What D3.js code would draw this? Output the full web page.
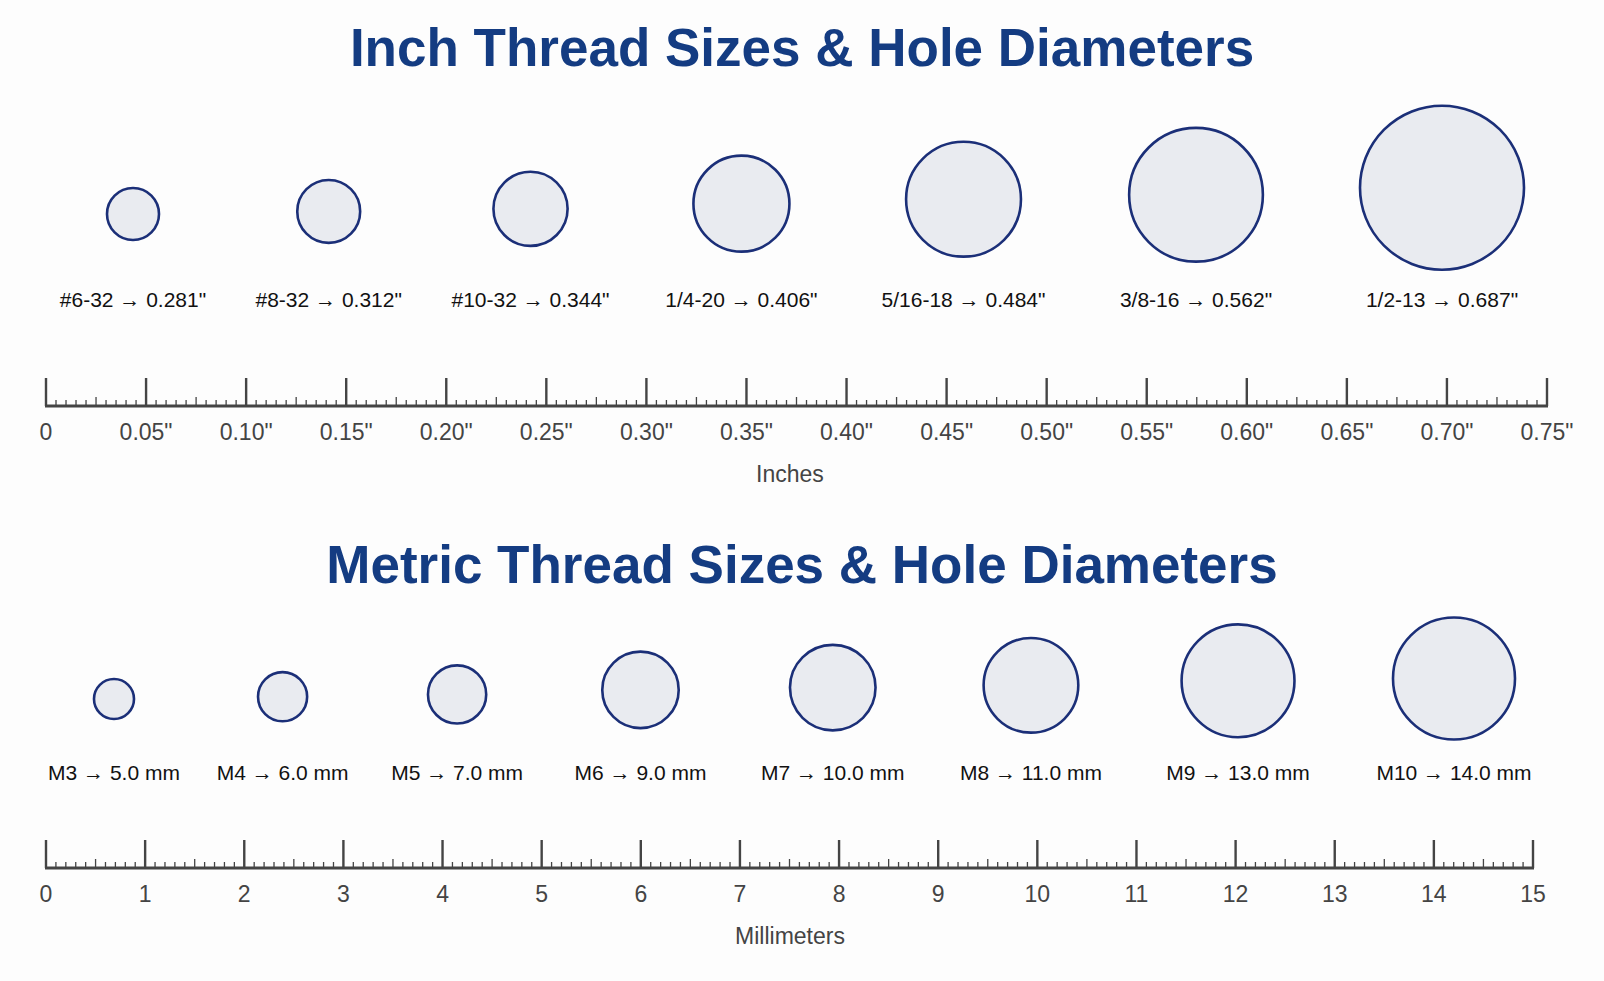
<!DOCTYPE html>
<html>
<head>
<meta charset="utf-8">
<script src="https://cdn.jsdelivr.net/npm/d3@7"></script>
<style>
  body { margin: 0; background: #fdfdfd; }
  text { font-family: "Liberation Sans", Arial, sans-serif; }
</style>
</head>
<body>
<svg width="1604" height="981"></svg>
<script>
// inch threads
const inchNames = ["#6-32", "#8-32", "#10-32", "1/4-20", "5/16-18", "3/8-16", "1/2-13"];
const inchDiam = [0.281, 0.312, 0.344, 0.406, 0.484, 0.562, 0.687];
const inchTicks = ["0", "0.05\"", "0.10\"", "0.15\"", "0.20\"", "0.25\"", "0.30\"", "0.35\"",
  "0.40\"", "0.45\"", "0.50\"", "0.55\"", "0.60\"", "0.65\"", "0.70\"", "0.75\""];

// metric threads
const metricNames = ["M3", "M4", "M5", "M6", "M7", "M8", "M9", "M10"];
const metricDiam = [5.0, 6.0, 7.0, 9.0, 10.0, 11.0, 13.0, 14.0];
const mmTicks = ["0", "1", "2", "3", "4", "5", "6", "7", "8", "9", "10", "11", "12", "13", "14", "15"];

const svg = d3.select("svg");
const blue = "#143c82";

function title(txt, y) {
    svg.append("text").attr("x", 802).attr("y", y).attr("text-anchor", "middle")
        .attr("font-size", 53).attr("font-weight", "bold").attr("fill", blue).text(txt);
}

// circles: blend of edge-packed layout and even spacing
function drawRow(names, diam, fmt, rScale, x0, x1, cy0, lift, labelY, mix) {
    const r = diam.map(d => rScale(d));
    let pairSum = 0;
    for (let i = 1; i < r.length; i++) pairSum += r[i - 1] + r[i];
    const gap = (x1 - x0 - pairSum) / (r.length - 1);
    const packed = [x0];
    for (let i = 1; i < r.length; i++) packed.push(packed[i - 1] + r[i - 1] + r[i] + gap);
    const even = d3.scalePoint().domain(d3.range(r.length)).range([x0, x1]);
    const xs = packed.map((p, i) => p + (even(i) - p) * mix);

    const g = svg.append("g");
    g.selectAll("circle").data(diam).enter().append("circle")
        .attr("cx", (d, i) => xs[i])
        .attr("cy", (d, i) => cy0 - (r[i] - r[0]) * lift)
        .attr("r", (d, i) => r[i])
        .attr("fill", "#e9ebf0").attr("stroke", "#1b2f78").attr("stroke-width", 2.6);
    g.selectAll("text").data(diam).enter().append("text")
        .attr("x", (d, i) => xs[i]).attr("y", labelY)
        .attr("text-anchor", "middle").attr("font-size", 21).attr("fill", "#111")
        .text((d, i) => names[i] + " \u2192 " + fmt(d));
}

function ruler(scale, max, minorStep, majorStep, labels, baseY, axisName) {
    const g = svg.append("g").attr("transform", `translate(0,${baseY})`);
    const n = Math.round(max / minorStep);
    const per = Math.round(majorStep / minorStep);
    const ticks = d3.range(n + 1);
    g.selectAll("line.t").data(ticks).enter().append("line")
        .attr("x1", i => scale(i * minorStep)).attr("x2", i => scale(i * minorStep))
        .attr("y1", 0)
        .attr("y2", i => i % per === 0 ? -28 : (i % (per / 2) === 0 ? -9 : -6))
        .attr("stroke", "#444").attr("stroke-width", i => i % per === 0 ? 2.4 : 1.3);
    g.append("line").attr("x1", scale(0) - 1).attr("x2", scale(max) + 1)
        .attr("y1", 0).attr("y2", 0).attr("stroke", "#444").attr("stroke-width", 3);
    g.selectAll("text.l").data(labels).enter().append("text")
        .attr("x", (d, i) => scale(i * majorStep)).attr("y", 34)
        .attr("text-anchor", "middle").attr("font-size", 23).attr("fill", "#444").text(d => d);
    g.append("text").attr("x", 790).attr("y", 76).attr("text-anchor", "middle")
        .attr("font-size", 23).attr("fill", "#444").text(axisName);
}

title("Inch Thread Sizes & Hole Diameters", 66);
const rInch = d3.scaleLinear().domain([0.281, 0.406, 0.687]).range([26, 48, 82]);
drawRow(inchNames, inchDiam, d => d.toFixed(3) + "\"", rInch, 133, 1442, 214, 0.47, 307, 0.45);
const xInch = d3.scaleLinear().domain([0, 0.75]).range([46, 1547]);
ruler(xInch, 0.75, 0.005, 0.05, inchTicks, 406, "Inches");

title("Metric Thread Sizes & Hole Diameters", 583);
const rMm = d3.scaleLinear().domain([5, 14]).range([20, 61]);
drawRow(metricNames, metricDiam, d => d.toFixed(1) + " mm", rMm, 114, 1454, 699, 0.5, 780, 0.35);
const xMm = d3.scaleLinear().domain([0, 15]).range([46, 1533]);
ruler(xMm, 15, 0.1, 1, mmTicks, 868, "Millimeters");
</script>
</body>
</html>
